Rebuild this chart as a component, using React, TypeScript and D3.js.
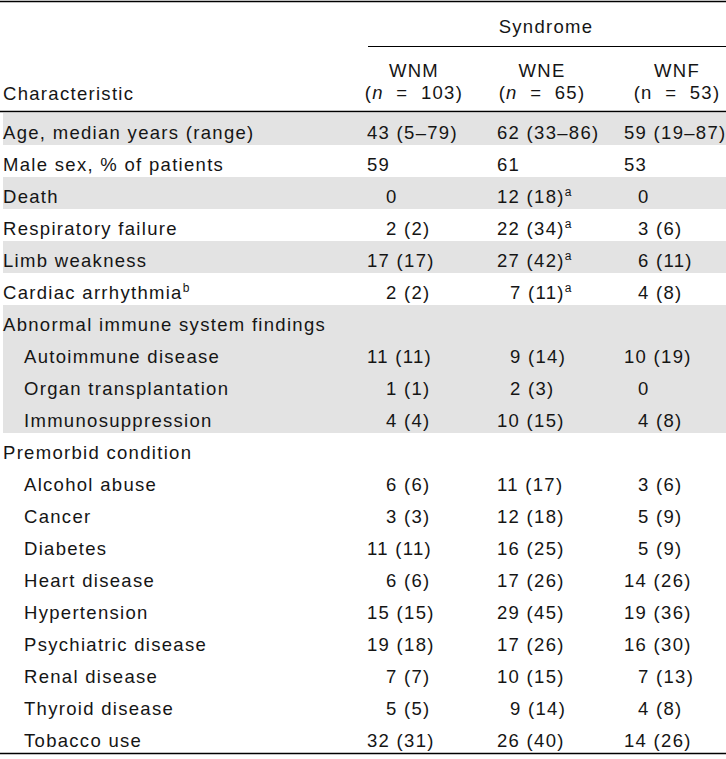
import React from "react";
import * as d3 from "d3";

// ---- data ----
const characteristics = [
  "Age, median years (range)",
  "Male sex, % of patients",
  "Death",
  "Respiratory failure",
  "Limb weakness",
  "Cardiac arrhythmia",
  "Abnormal immune system findings",
  "Autoimmune disease",
  "Organ transplantation",
  "Immunosuppression",
  "Premorbid condition",
  "Alcohol abuse",
  "Cancer",
  "Diabetes",
  "Heart disease",
  "Hypertension",
  "Psychiatric disease",
  "Renal disease",
  "Thyroid disease",
  "Tobacco use",
];
const characteristicNotes = ["", "", "", "", "", "b", "", "", "", "", "", "", "", "", "", "", "", "", "", ""];
const isSubItem = [false, false, false, false, false, false, false, true, true, true, false, true, true, true, true, true, true, true, true, true];
const shadedRows = [true, false, true, false, true, false, true, true, true, true, false, false, false, false, false, false, false, false, false, false];

const syndromes = ["WNM", "WNE", "WNF"];
const syndromeN = ["103", "65", "53"];
const nItalic = [true, true, false];

const wnmValues = ["43 (5–79)", "59", "0", "2 (2)", "17 (17)", "2 (2)", "", "11 (11)", "1 (1)", "4 (4)", "", "6 (6)", "3 (3)", "11 (11)", "6 (6)", "15 (15)", "19 (18)", "7 (7)", "5 (5)", "32 (31)"];
const wneValues = ["62 (33–86)", "61", "12 (18)", "22 (34)", "27 (42)", "7 (11)", "", "9 (14)", "2 (3)", "10 (15)", "", "11 (17)", "12 (18)", "16 (25)", "17 (26)", "29 (45)", "17 (26)", "10 (15)", "9 (14)", "26 (40)"];
const wnfValues = ["59 (19–87)", "53", "0", "3 (6)", "6 (11)", "4 (8)", "", "10 (19)", "0", "4 (8)", "", "3 (6)", "5 (9)", "5 (9)", "14 (26)", "19 (36)", "16 (30)", "7 (13)", "4 (8)", "14 (26)"];
const wneNotes = ["", "", "a", "a", "a", "a", "", "", "", "", "", "", "", "", "", "", "", "", "", ""];

// ---- layout ----
const W = 726;
const H = 759;
const FONT = "'Liberation Sans', Arial, Helvetica, sans-serif";
const FS = 18.5;
const LS = 1.3;
const TEXT = "#151515";
const SHADE = "#e3e3e3";

const colStart = [367, 497, 624];
const colSingleShift = [19, 13, 14];
const colHeadCenter = [414, 542, 677];

export default function App() {
  const idx = characteristics.map((_, i) => i);
  const y = d3.scaleBand<number>().domain(idx).range([113, 753]).paddingInner(0).paddingOuter(0);
  const colValues = [wnmValues, wneValues, wnfValues];
  const colNotes = [characteristics.map(() => ""), wneNotes, characteristics.map(() => "")];

  const textProps = {
    fontFamily: FONT,
    fontSize: FS,
    letterSpacing: LS,
    fill: TEXT,
  } as const;

  return (
    <svg
      width={W}
      height={H}
      viewBox={`0 0 ${W} ${H}`}
      style={{ position: "absolute", left: 0, top: 0, background: "#fff" }}
    >
      <rect x={0} y={0} width={W} height={H} fill="#fff" />
      {/* shaded rows */}
      {idx.map((i) =>
        shadedRows[i] ? (
          <rect key={`s${i}`} x={3} y={y(i)!} width={W - 3} height={y.bandwidth()} fill={SHADE} />
        ) : null
      )}
      {/* rules */}
      <line x1={0} x2={W} y1={1.5} y2={1.5} stroke="#000" strokeWidth={1.5} />
      <line x1={368} x2={W} y1={46.5} y2={46.5} stroke="#000" strokeWidth={1.2} />
      <line x1={0} x2={W} y1={111.5} y2={111.5} stroke="#000" strokeWidth={1.5} />
      <line x1={0} x2={W} y1={753.5} y2={753.5} stroke="#000" strokeWidth={1.5} />

      {/* header */}
      <text {...textProps} x={546} y={33} textAnchor="middle">Syndrome</text>
      <text {...textProps} x={3} y={100}>Characteristic</text>
      {syndromes.map((s, c) => (
        <g key={s}>
          <text {...textProps} x={colHeadCenter[c]} y={77} textAnchor="middle">{s}</text>
          <text {...textProps} x={colHeadCenter[c]} y={99} textAnchor="middle" xmlSpace="preserve" wordSpacing={6}>
            (<tspan fontStyle={nItalic[c] ? "italic" : "normal"}>n</tspan> = {syndromeN[c]})
          </text>
        </g>
      ))}

      {/* body */}
      {idx.map((i) => {
        const base = y(i)! + 25.5;
        return (
          <g key={`r${i}`}>
            <text {...textProps} x={isSubItem[i] ? 24 : 3} y={base}>
              {characteristics[i]}
              {characteristicNotes[i] ? (
                <tspan fontSize={12} dy={-7}>{characteristicNotes[i]}</tspan>
              ) : null}
            </text>
            {colValues.map((vals, c) => {
              const v = vals[i];
              if (!v) return null;
              const single = /^\d(\D|$)/.test(v);
              const x = colStart[c] + (single ? colSingleShift[c] : 0);
              const note = colNotes[c][i];
              return (
                <text key={c} {...textProps} x={x} y={base}>
                  {v}
                  {note ? <tspan fontSize={12} letterSpacing={0} dy={-7}>{note}</tspan> : null}
                </text>
              );
            })}
          </g>
        );
      })}
    </svg>
  );
}
